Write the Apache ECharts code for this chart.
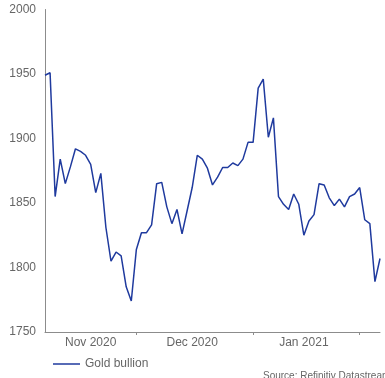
<!DOCTYPE html>
<html>
<head>
<meta charset="utf-8">
<script src="https://cdn.jsdelivr.net/npm/echarts@6/dist/echarts.min.js"></script>
<style>
html,body{margin:0;padding:0;background:#fff;}
#c{width:385px;height:378px;}
</style>
</head>
<body>
<div id="c"></div>
<script>
var dates = [
 "2020-11-05","2020-11-06","2020-11-09","2020-11-10","2020-11-11","2020-11-12","2020-11-13",
 "2020-11-16","2020-11-17","2020-11-18","2020-11-19","2020-11-20","2020-11-23","2020-11-24",
 "2020-11-25","2020-11-26","2020-11-27","2020-11-30",
 "2020-12-01","2020-12-02","2020-12-03","2020-12-04","2020-12-07","2020-12-08","2020-12-09",
 "2020-12-10","2020-12-11","2020-12-14","2020-12-15","2020-12-16","2020-12-17","2020-12-18",
 "2020-12-21","2020-12-22","2020-12-23","2020-12-24","2020-12-25","2020-12-28","2020-12-29",
 "2020-12-30","2020-12-31",
 "2021-01-01","2021-01-04","2021-01-05","2021-01-06","2021-01-07","2021-01-08","2021-01-11",
 "2021-01-12","2021-01-13","2021-01-14","2021-01-15","2021-01-18","2021-01-19","2021-01-20",
 "2021-01-21","2021-01-22","2021-01-25","2021-01-26","2021-01-27","2021-01-28","2021-01-29",
 "2021-02-01","2021-02-02","2021-02-03","2021-02-04","2021-02-05"
];
var goldBullion = [
 1949,1951,1855,1884,1865,1878,1892,1890,1887,1880,1858,1873,1831,1805,1812,1809,1785,1774,
 1814,1827,1827,1833,1865,1866,1847,1834,1845,1826,1844,1862,1887,1884,1877,1864,1870,1877.5,
 1877.5,1881,1879,1884,1897,1897,
 1939,1946,1901,1916,1855,1849,1845,1857,1849,1825,1836,1841,1865,1864,1854,1848,1853,1847,
 1855,1857,1862,1837,1834,1789,1807
];
var monthLabels = {"2020-11-18":"Nov 2020","2020-12-16":"Dec 2020","2021-01-15":"Jan 2021"};
var monthTicks = ["2020-12-01","2021-01-01","2021-02-01"];
var yTicks = [1750,1800,1850,1900,1950,2000];

var chart = echarts.init(document.getElementById('c'));
var grey = '#666666';
chart.setOption({
  animation:false,
  backgroundColor:'#fff',
  grid:{left:45,right:5,top:9.5,bottom:46},
  legend:{
    data:['Gold bullion'],left:48,top:353,
    icon:'rect',itemWidth:27,itemHeight:1.5,itemGap:5,
    textStyle:{fontFamily:'Liberation Sans',fontSize:12,color:grey}
  },
  xAxis:{
    type:'category',data:dates,boundaryGap:false,
    axisLine:{lineStyle:{color:'#8c8c8c',width:1}},
    axisTick:{show:true,length:3,lineStyle:{color:'#8c8c8c'},
      interval:function(i,v){return monthTicks.indexOf(v)>=0;}},
    axisLabel:{margin:5,fontFamily:'Liberation Sans',fontSize:12,color:grey,
      interval:function(i,v){return monthLabels[v]!==undefined;},
      formatter:function(v){return monthLabels[v]||'';}},
    splitLine:{show:false}
  },
  yAxis:{
    type:'value',min:yTicks[0],max:yTicks[yTicks.length-1],interval:50,
    axisLine:{show:true,lineStyle:{color:'#8c8c8c',width:1}},
    axisTick:{show:false},
    axisLabel:{margin:9,fontFamily:'Liberation Sans',fontSize:12,color:grey,
      formatter:function(v){return String(v);}},
    splitLine:{show:false}
  },
  graphic:[{type:'text',left:263,top:371,
    style:{text:'Source: Refinitiv Datastream',fontFamily:'Liberation Sans',fontSize:10,fill:grey}}],
  series:[{
    name:'Gold bullion',type:'line',data:goldBullion,symbol:'none',
    lineStyle:{color:'#1f3a9e',width:1.5},itemStyle:{color:'#1f3a9e'}
  }]
});
</script>
</body>
</html>
